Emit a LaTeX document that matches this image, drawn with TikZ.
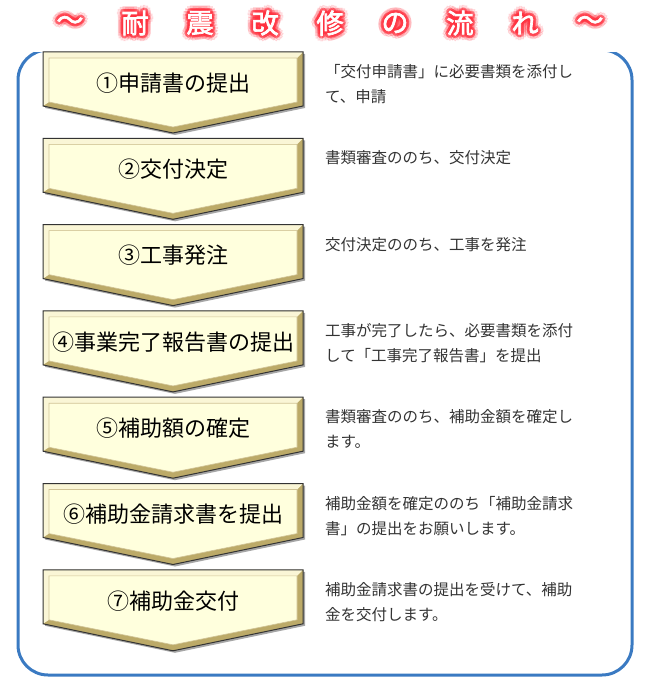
\documentclass[tikz,border=0pt]{standalone}
\usepackage{fontspec}
\newfontfamily\jp{Noto Sans CJK JP}
\newfontfamily\jpbold{Noto Sans CJK JP}[FakeBold=2.5]
\definecolor{frameblue}{RGB}{58,122,194}
\definecolor{chevin}{RGB}{255,255,221}
\definecolor{chevlight}{RGB}{250,246,214}
\definecolor{chevedge}{RGB}{188,170,104}
\definecolor{glowred}{RGB}{255,50,64}
\begin{document}
\begin{tikzpicture}[x=1pt,y=-1pt]
\tikzstyle{steptext}=[font=\jp\fontsize{22}{24}\selectfont, text=black, inner sep=0pt]
\tikzstyle{desctext}=[font=\jp\fontsize{15.5}{18}\selectfont, text=black!80, anchor=base west, inner sep=0pt]
\tikzstyle{titlechar}=[font=\jpbold\fontsize{27}{30}\selectfont, inner sep=0pt]
\useasboundingbox (0,0) rectangle (649,682);
% frame, top edge hidden under the title
\draw[frameblue, line width=3pt, rounded corners=30pt] (18,50) rectangle (632,675);
\fill[white] (34,0) rectangle (616,52);
% title with red glow
\foreach \c [count=\i] in {～,耐,震,改,修,の,流,れ,～} {
  \foreach \a in {0,30,...,330} {
    \node[titlechar, text=glowred, text opacity=0.13] (g\i-\a) at ([shift={(\a:5.5pt)}] 5+65*\i,23) {\c};
    \node[titlechar, text=glowred, text opacity=0.35] (h\i-\a) at ([shift={(\a:2.8pt)}] 5+65*\i,23) {\c};
  }
  \node[titlechar, text=white] (t\i) at (5+65*\i,23) {\c};
}
% steps
\foreach \n/\txt/\da/\db in {
  1/①申請書の提出/「交付申請書」に必要書類を添付し/て、申請,
  2/②交付決定/書類審査ののち、交付決定/,
  3/③工事発注/交付決定ののち、工事を発注/,
  4/④事業完了報告書の提出/工事が完了したら、必要書類を添付/して「工事完了報告書」を提出,
  5/⑤補助額の確定/書類審査ののち、補助金額を確定し/ます。,
  6/⑥補助金請求書を提出/補助金額を確定ののち「補助金請求/書」の提出をお願いします。,
  7/⑦補助金交付/補助金請求書の提出を受けて、補助/金を交付します。} {
  \pgfmathsetmacro\t{52+86.3*(\n-1)}
  % chevron with bevel
  \fill[black!35] (45,\t+2) -- (305,\t+2) -- (305,\t+56) -- (175,\t+83) -- (45,\t+56) -- cycle;
  \fill[chevedge] (43,\t) -- (303,\t) -- (303,\t+54) -- (173,\t+81) -- (43,\t+54) -- cycle;
  \fill[chevlight] (43,\t) -- (303,\t) -- (297,\t+6) -- (49,\t+6) -- (49,\t+50) -- (43,\t+54) -- cycle;
  \filldraw[fill=chevin, draw=chevedge!70, line width=0.6pt] (49,\t+6) -- (297,\t+6) -- (297,\t+50) -- (173,\t+75) -- (49,\t+50) -- cycle;
  \draw[black!80, line width=1pt] (43,\t) -- (303,\t) -- (303,\t+54) -- (173,\t+81) -- (43,\t+54) -- cycle;
  \node[steptext] (s\n) at (173,\t+31) {\txt};
  \node[desctext] (d\n a) at (325,\t+25.5) {\da};
  \node[desctext] (d\n b) at (325,\t+50.5) {\db};
}
\end{tikzpicture}
\end{document}
